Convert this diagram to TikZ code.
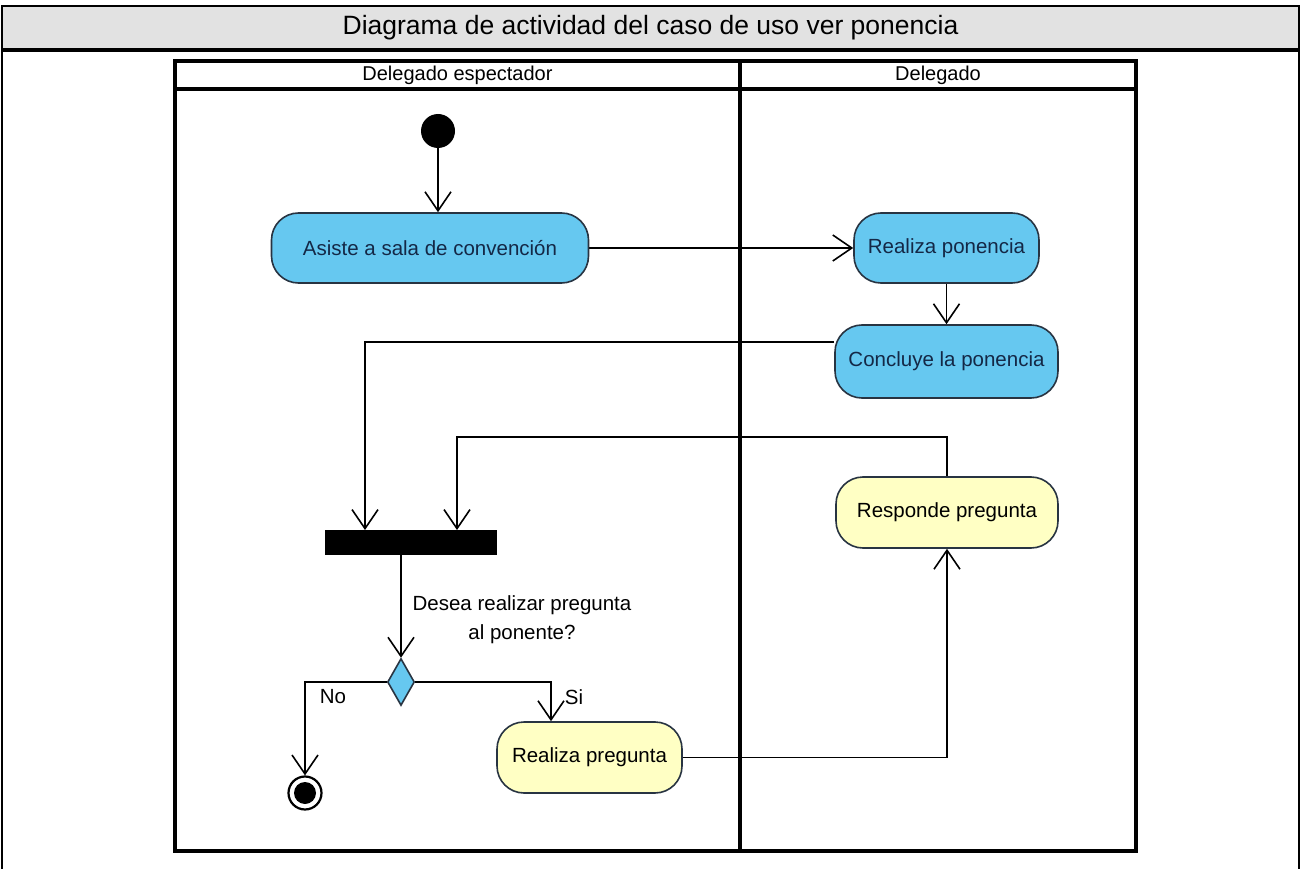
\documentclass[tikz,border=0pt]{standalone}
\usepackage{fontspec}
\setmainfont{Liberation Sans}
\usetikzlibrary{arrows.meta,shapes.geometric}

\definecolor{actblue}{RGB}{102,200,240}
\definecolor{actyellow}{RGB}{255,255,196}
\definecolor{actborder}{RGB}{40,52,66}
\definecolor{navytext}{RGB}{20,40,70}
\definecolor{titlegray}{RGB}{226,226,226}

\pgfdeclarelayer{frames}
\pgfdeclarelayer{edges}
\pgfsetlayers{frames,edges,main}

\tikzset{
  activity/.style={draw=actborder, line width=1.6pt, rounded corners=27pt,
    inner sep=0pt, font=\fontsize{20.5}{24}\selectfont, align=center},
  blueact/.style={activity, fill=actblue, text=navytext},
  yellowact/.style={activity, fill=actyellow, text=black},
  flow/.style={draw=black, line width=1.6pt,
    -{Straight Barb[length=19pt,width=26pt,line width=1.6pt]}},
  lane/.style={draw=black, line width=3.4pt},
  label/.style={font=\fontsize{20.5}{29}\selectfont, align=center, inner sep=0pt},
}

\begin{document}
\begin{tikzpicture}[x=1pt,y=-1pt]
\useasboundingbox (0,0) rectangle (1302,869);

% ---- outer table with title row ----
\begin{pgfonlayer}{frames}
  \fill[white] (0,0) rectangle (1302,869);
  \fill[titlegray] (2,6) rectangle (1299,50);
  \draw[line width=2.4pt] (2,875) -- (2,6) -- (1299,6) -- (1299,875);
  \draw[line width=3.4pt] (2,50) -- (1299,50);
  \node[font=\fontsize{26.5}{31}\selectfont, inner sep=0pt] (title) at (650.5,28)
    {Diagrama de actividad del caso de uso ver ponencia};

  % ---- swimlanes ----
  \draw[lane] (175,61) rectangle (1136,851);
  \draw[lane] (175,89) -- (1136,89);
  \draw[lane] (740,61) -- (740,851);
  \node[font=\fontsize{20}{23}\selectfont, inner sep=0pt] (laneA) at (457.5,75) {Delegado espectador};
  \node[font=\fontsize{20}{23}\selectfont, inner sep=0pt] (laneB) at (938,75) {Delegado};
\end{pgfonlayer}

% ---- nodes ----
\node[circle, fill=black, minimum size=34pt, inner sep=0pt] (init) at (438,131) {};
\node[blueact, minimum width=317pt, minimum height=70pt] (asiste) at (430,248) {Asiste a sala de convención};
\node[blueact, minimum width=185pt, minimum height=70pt] (rp) at (946.5,248) {Realiza ponencia};
\node[blueact, minimum width=223pt, minimum height=73pt] (cp) at (946.5,361.5) {Concluye la ponencia};
\node[yellowact, minimum width=222pt, minimum height=71pt] (rs) at (947,512.5) {Responde pregunta};
\node[rectangle, fill=black, minimum width=172pt, minimum height=25pt, inner sep=0pt] (bar) at (411,542.5) {};
\node[diamond, fill=actblue, draw=actborder, line width=1.6pt, inner sep=0pt,
      minimum width=27pt, minimum height=47pt, aspect=0.57] (dec) at (401,682) {};
\node[yellowact, minimum width=185pt, minimum height=71pt] (rq) at (589.5,757.5) {Realiza pregunta};
\node[circle, draw=black, fill=white, line width=2.2pt, minimum size=33pt, inner sep=0pt] (fin) at (305,793) {};
\fill[black] (fin.center) circle (11pt);

% ---- guard and decision labels ----
\node[label] (question) at (522,620) {Desea realizar pregunta\\al ponente?};
\node[label] (no) at (333,697) {No};
\node[label] (si) at (574,697) {Si};

% ---- bend points ----
\coordinate (k1) at (365,342);
\coordinate (in1) at (365,530);
\coordinate (k2) at (457,437);
\coordinate (in2) at (457,530);
\coordinate (k3) at (551,682);

% ---- control flows ----
\begin{pgfonlayer}{edges}
  \draw[flow] (init.south) -- (init.south |- asiste.north);
  \draw[flow] (asiste.east) -- (rp.west);
  \draw[flow] (rp.south) -- (rp.south |- cp.north);
  \draw[flow] (cp.west |- k1) -- (k1) -- (in1);
  \draw[flow] (rs.north) |- (k2) -- (in2);
  \draw[flow] (dec.north |- bar.south) -- (dec.north);
  \draw[flow] (dec.west) -| (fin.north);
  \draw[flow] (dec.east) -- (k3) -- (k3 |- rq.north);
  \draw[flow] (rq.east) -| (rs.south);
\end{pgfonlayer}
\end{tikzpicture}
\end{document}
